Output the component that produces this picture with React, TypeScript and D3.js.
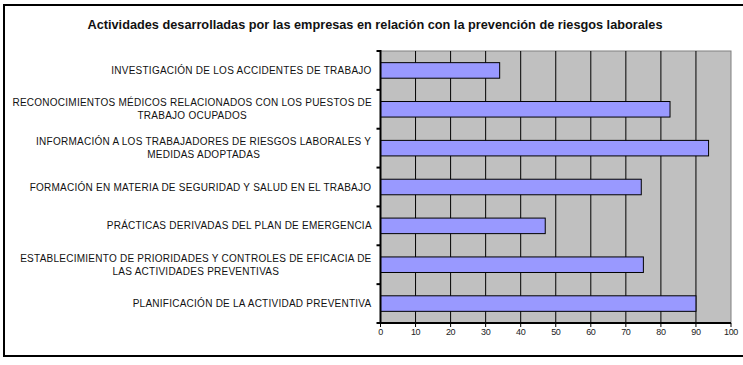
import React from 'react';
import * as d3 from 'd3';

const title = 'Actividades desarrolladas por las empresas en relación con la prevención de riesgos laborales';

const categories = [
  'INVESTIGACIÓN DE LOS ACCIDENTES DE TRABAJO',
  'RECONOCIMIENTOS MÉDICOS RELACIONADOS CON LOS PUESTOS DE\nTRABAJO OCUPADOS',
  'INFORMACIÓN A LOS TRABAJADORES DE RIESGOS LABORALES Y\nMEDIDAS ADOPTADAS',
  'FORMACIÓN EN MATERIA DE SEGURIDAD Y SALUD EN EL TRABAJO',
  'PRÁCTICAS DERIVADAS DEL PLAN DE EMERGENCIA',
  'ESTABLECIMIENTO DE PRIORIDADES Y CONTROLES DE EFICACIA DE\nLAS ACTIVIDADES PREVENTIVAS',
  'PLANIFICACIÓN DE LA ACTIVIDAD PREVENTIVA',
];

const values = [34, 82.6, 93.6, 74.4, 47, 75, 90];

const xTicks = [0, 10, 20, 30, 40, 50, 60, 70, 80, 90, 100];

const W = 743;
const H = 365;
const plot = { left: 380.5, right: 731, top: 51, bottom: 323 };
const font = "Arial, 'Liberation Sans', sans-serif";
const labelSize = 10;
const labelSpacing = 0.25;

// width of a label line, so two-line labels can be centred as a block
let ctx: CanvasRenderingContext2D | null = null;
const textWidth = (s: string) => {
  if (!ctx) ctx = document.createElement('canvas').getContext('2d');
  if (!ctx) return s.length * 6.5;
  ctx.font = `${labelSize}px ${font}`;
  return ctx.measureText(s).width + s.length * labelSpacing;
};

const App: React.FC = () => {
  const x = d3.scaleLinear().domain([0, 100]).range([plot.left, plot.right]);
  const y = d3.scaleBand<string>()
    .domain(categories)
    .range([plot.top, plot.bottom])
    .paddingInner(0)
    .paddingOuter(0);
  const step = y.step();
  const barH = step * 0.4;

  const catTicks = d3.range(categories.length + 1).map(i => plot.top + i * step);
  const labelRight = 372;

  return (
    <svg
      width={W}
      height={H}
      style={{ position: 'absolute', left: 0, top: 0, background: 'white' }}
    >
      <rect x={0} y={0} width={W} height={H} fill="white" />
      <rect x={4} y={5} width={W + 10} height={351} fill="none" stroke="#000" strokeWidth={2} />

      <text
        x={375}
        y={29}
        textAnchor="middle"
        fontFamily={font}
        fontSize={13}
        fontWeight="bold"
        fill="#111"
        textLength={575}
        lengthAdjust="spacingAndGlyphs"
      >
        {title}
      </text>

      {/* plot area */}
      <rect
        x={plot.left}
        y={plot.top}
        width={plot.right - plot.left}
        height={plot.bottom - plot.top}
        fill="#c0c0c0"
        stroke="#808080"
        strokeWidth={1}
      />

      {xTicks.slice(1, -1).map(t => (
        <line
          key={'g' + t}
          x1={x(t)}
          x2={x(t)}
          y1={plot.top}
          y2={plot.bottom}
          stroke="#000"
          strokeWidth={1}
        />
      ))}

      {categories.map((c, i) => {
        const cy = (y(c) ?? 0) + step / 2;
        return (
          <rect
            key={'b' + i}
            x={x(0)}
            y={cy - barH / 2}
            width={x(values[i]) - x(0)}
            height={barH}
            fill="#9999ff"
            stroke="#000"
            strokeWidth={1}
          />
        );
      })}

      {/* axes */}
      <line x1={plot.left} x2={plot.left} y1={plot.top - 1} y2={plot.bottom + 1} stroke="#000" strokeWidth={2} />
      <line x1={plot.left - 1} x2={plot.right} y1={plot.bottom} y2={plot.bottom} stroke="#000" strokeWidth={2} />

      {catTicks.map((t, i) => (
        <line key={'ct' + i} x1={plot.left - 4} x2={plot.left} y1={t} y2={t} stroke="#000" strokeWidth={2} />
      ))}

      {xTicks.map(t => (
        <g key={'xt' + t}>
          <line x1={x(t)} x2={x(t)} y1={plot.bottom} y2={plot.bottom + 4} stroke="#000" strokeWidth={1} />
          <text
            x={x(t)}
            y={334.5}
            textAnchor="middle"
            fontFamily={font}
            fontSize={9}
            letterSpacing={-0.4}
            fill="#222"
          >
            {t}
          </text>
        </g>
      ))}

      {categories.map((c, i) => {
        const lines = c.split('\n');
        const cy = (y(c) ?? 0) + step / 2;
        const lh = 13;
        const y0 = cy - ((lines.length - 1) * lh) / 2;
        const blockW = d3.max(lines, l => textWidth(l)) ?? 0;
        const cx = labelRight - blockW / 2;
        return (
          <g key={'l' + i}>
            {lines.map((l, j) => (
              <text
                key={j}
                x={cx}
                y={y0 + j * lh + 3.6}
                textAnchor="middle"
                fontFamily={font}
                fontSize={labelSize}
                letterSpacing={labelSpacing}
                fill="#111"
              >
                {l}
              </text>
            ))}
          </g>
        );
      })}
    </svg>
  );
};

export default App;
